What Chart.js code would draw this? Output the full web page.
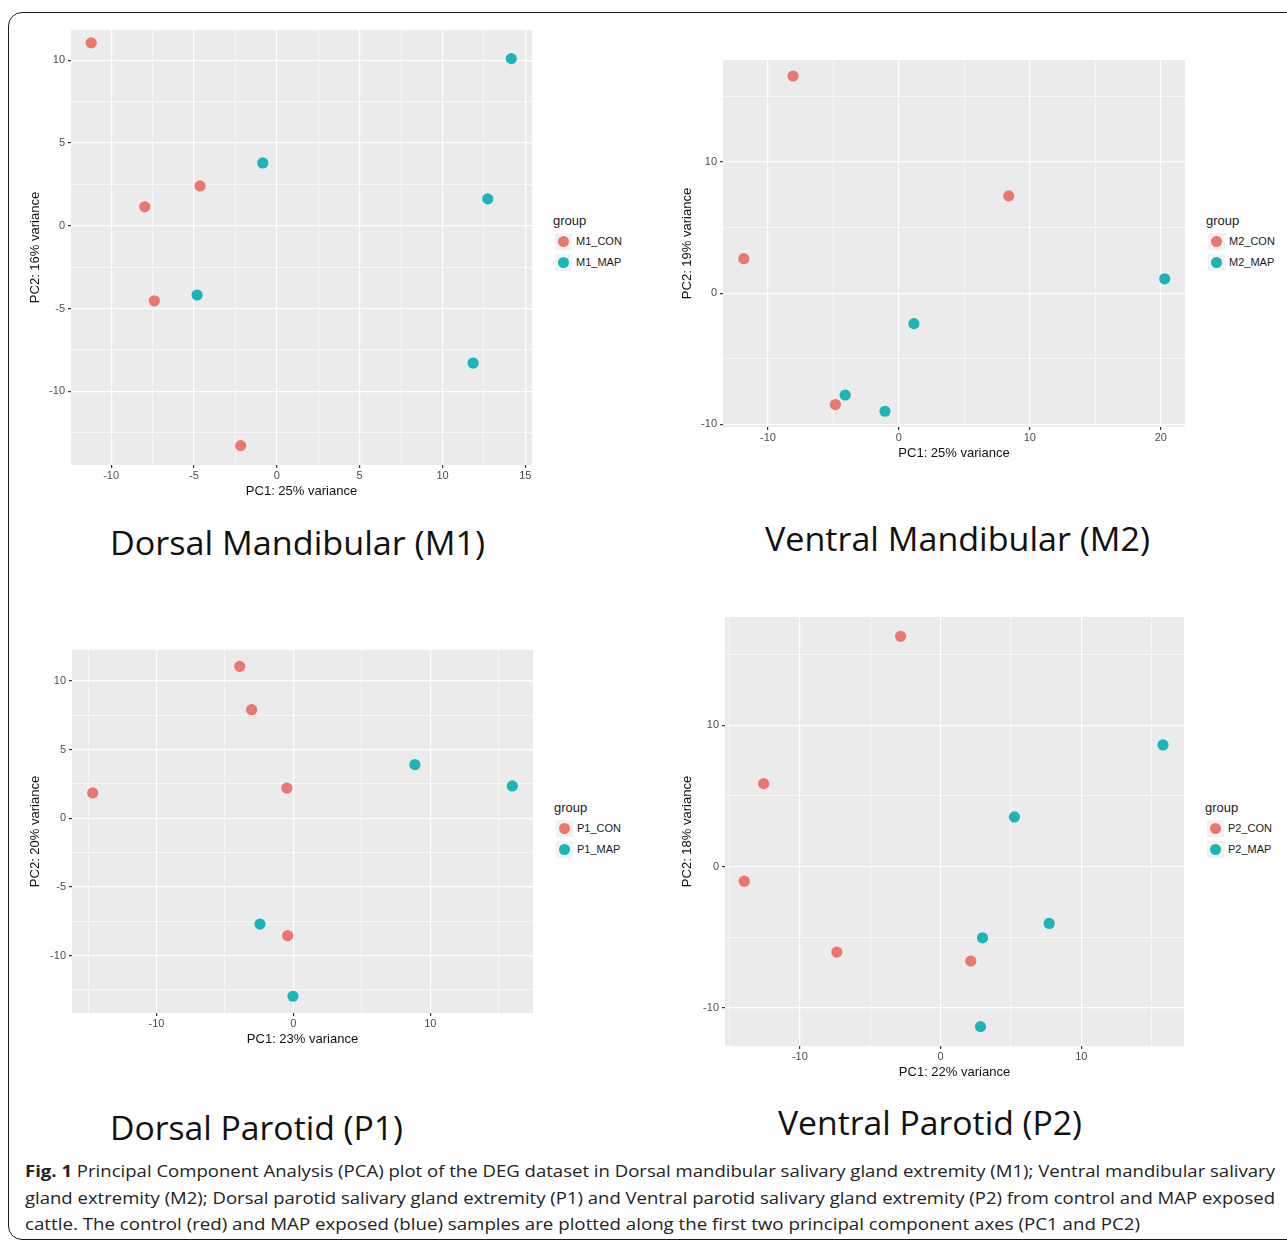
<!DOCTYPE html>
<html><head><meta charset="utf-8">
<script src="https://cdn.jsdelivr.net/npm/chart.js@4.4.1/dist/chart.umd.min.js"></script>
<style>
html,body{margin:0;padding:0;background:#fff;}
body{width:1287px;height:1244px;overflow:hidden;position:relative;font-family:"Open Sans",sans-serif;}
.frame{position:absolute;left:8px;top:12px;width:1310px;height:1228px;border:1.6px solid #1a1a1a;border-radius:14px;box-sizing:border-box;}
canvas.cv{position:absolute;}
.lg{position:absolute;font-family:"Liberation Sans",Arial,sans-serif;color:#1a1a1a;}
.lg .t{position:absolute;left:0;font-size:13px;line-height:16px;white-space:nowrap;}
.lg .k{position:absolute;width:17px;height:17px;background:#f2f2f2;}
.lg .d{position:absolute;width:11px;height:11px;border-radius:50%;}
.lg .l{position:absolute;font-size:11px;line-height:14px;white-space:nowrap;}
.fit{position:absolute;display:inline-block;white-space:nowrap;line-height:1;transform-origin:0 0;}
.sub{font-family:"Open Sans",sans-serif;font-size:32px;color:#111;}
.cap{font-family:"Open Sans",sans-serif;font-size:15.5px;color:#222;}
</style></head>
<body>
<div class="frame"></div>
<canvas id="cM1" class="cv"></canvas>
<canvas id="cM2" class="cv"></canvas>
<canvas id="cP1" class="cv"></canvas>
<canvas id="cP2" class="cv"></canvas>
<script>
// ---------- data ----------
const m1ConX = [-11.2, -7.97, -4.63, -7.39, -2.18];
const m1ConY = [11.05, 1.15, 2.41, -4.53, -13.28];
const m1MapX = [14.15, -0.85, 12.73, -4.81, 11.85];
const m1MapY = [10.1, 3.8, 1.63, -4.18, -8.29];

const m2ConX = [-8.08, -11.84, 8.39, -4.85];
const m2ConY = [16.56, 2.63, 7.42, -8.49];
const m2MapX = [20.3, 1.15, -4.1, -1.06];
const m2MapY = [1.1, -2.32, -7.76, -9.0];

const p1ConX = [-3.92, -3.05, -14.66, -0.48, -0.42];
const p1ConY = [11.06, 7.9, 1.84, 2.2, -8.56];
const p1MapX = [8.87, 15.99, -2.44, -0.03];
const p1MapY = [3.9, 2.35, -7.71, -12.97];

const p2ConX = [-2.84, -12.57, -13.95, -7.37, 2.15];
const p2ConY = [16.3, 5.87, -1.04, -6.06, -6.7];
const p2MapX = [15.81, 5.25, 7.72, 2.98, 2.84];
const p2MapY = [8.61, 3.51, -4.03, -5.05, -11.34];

// tick values (major = labelled, minor = grid only)
const m1XMajor = [-10, -5, 0, 5, 10, 15], m1XMinor = [-7.5, -2.5, 2.5, 7.5, 12.5];
const m1YMajor = [-10, -5, 0, 5, 10],     m1YMinor = [-12.5, -7.5, -2.5, 2.5, 7.5];
const m2XMajor = [-10, 0, 10, 20],        m2XMinor = [-5, 5, 15];
const m2YMajor = [-10, 0, 10],            m2YMinor = [-5, 5, 15];
const p1XMajor = [-10, 0, 10],            p1XMinor = [-15, -5, 5, 15];
const p1YMajor = [-10, -5, 0, 5, 10],     p1YMinor = [-12.5, -7.5, -2.5, 2.5, 7.5];
const p2XMajor = [-10, 0, 10],            p2XMinor = [-15, -5, 5, 15];
const p2YMajor = [-10, 0, 10],            p2YMinor = [-5, 5, 15];

// axis ranges
const m1XRange = [-12.42, 15.4],  m1YRange = [-14.45, 11.83];
const m2XRange = [-13.43, 21.85], m2YRange = [-10.2, 17.78];
const p1XRange = [-16.17, 17.5],  p1YRange = [-14.19, 12.25];
const p2XRange = [-15.32, 17.3],  p2YRange = [-12.71, 17.67];

const titlesX = ["PC1: 25% variance", "PC1: 25% variance", "PC1: 23% variance", "PC1: 22% variance"];
const titlesY = ["PC2: 16% variance", "PC2: 19% variance", "PC2: 20% variance", "PC2: 18% variance"];
const groupLabels = [["M1_CON", "M1_MAP"], ["M2_CON", "M2_MAP"], ["P1_CON", "P1_MAP"], ["P2_CON", "P2_MAP"]];
const panelNames = ["Dorsal Mandibular (M1)", "Ventral Mandibular (M2)", "Dorsal Parotid (P1)", "Ventral Parotid (P2)"];
const legendTitle = "group";
const captionBold = "Fig. 1";
const captionLines = [
  " Principal Component Analysis (PCA) plot of the DEG dataset in Dorsal mandibular salivary gland extremity (M1); Ventral mandibular salivary",
  "gland extremity (M2); Dorsal parotid salivary gland extremity (P1) and Ventral parotid salivary gland extremity (P2) from control and MAP exposed",
  "cattle. The control (red) and MAP exposed (blue) samples are plotted along the first two principal component axes (PC1 and PC2)"
];

// ---------- styling / layout ----------
const CON_COLOR = '#E9776D', MAP_COLOR = '#19B5B9';
const layouts = [
  {id:'cM1', l:71,  t:30,  r:532,  b:465,  ytx:35,  xty:491},
  {id:'cM2', l:723, t:60,  r:1185, b:427,  ytx:687, xty:453},
  {id:'cP1', l:72,  t:650, r:533,  b:1013, ytx:35,  xty:1039},
  {id:'cP2', l:725, t:617, r:1184, b:1046, ytx:687, xty:1072}
];
const panels = [
  {conX:m1ConX, conY:m1ConY, mapX:m1MapX, mapY:m1MapY, xMaj:m1XMajor, xMin:m1XMinor, yMaj:m1YMajor, yMin:m1YMinor, xr:m1XRange, yr:m1YRange},
  {conX:m2ConX, conY:m2ConY, mapX:m2MapX, mapY:m2MapY, xMaj:m2XMajor, xMin:m2XMinor, yMaj:m2YMajor, yMin:m2YMinor, xr:m2XRange, yr:m2YRange},
  {conX:p1ConX, conY:p1ConY, mapX:p1MapX, mapY:p1MapY, xMaj:p1XMajor, xMin:p1XMinor, yMaj:p1YMajor, yMin:p1YMinor, xr:p1XRange, yr:p1YRange},
  {conX:p2ConX, conY:p2ConY, mapX:p2MapX, mapY:p2MapY, xMaj:p2XMajor, xMin:p2XMinor, yMaj:p2YMajor, yMin:p2YMinor, xr:p2XRange, yr:p2YRange}
];

const panelBg = {
  id:'panelBg',
  beforeDraw(chart){
    const {ctx, chartArea:a} = chart;
    ctx.save(); ctx.fillStyle = '#EBEBEB';
    ctx.fillRect(a.left, a.top, a.right - a.left, a.bottom - a.top);
    ctx.restore();
  }
};

const TITLE_FONT = 13, LH = TITLE_FONT * 1.2;
const isMaj = (arr, v) => arr.some(m => Math.abs(m - v) < 1e-6);
const fmt = v => String(v);

function makeScale(maj, min, range, title, horizontal, fixedSize, titlePad){
  return {
    type:'linear', min:range[0], max:range[1],
    afterBuildTicks: s => { s.ticks = maj.concat(min).sort((a,b)=>a-b).map(v=>({value:v})); },
    afterFit: s => {
      if (horizontal) s.height = fixedSize; else s.width = fixedSize;
      s.paddingTop = 0; s.paddingBottom = 0; s.paddingLeft = 0; s.paddingRight = 0;
    },
    ticks:{
      autoSkip:false, maxRotation:0, minRotation:0, padding: horizontal ? 1 : 3,
      color:'#4D4D4D', font:{family:'"Liberation Sans", Arial, sans-serif', size:11},
      callback: v => isMaj(maj, v) ? fmt(v) : ''
    },
    grid:{
      color:'#FFFFFF',
      lineWidth: c => (c.tick && isMaj(maj, c.tick.value)) ? 1.2 : 0.6,
      tickColor: c => (c.tick && isMaj(maj, c.tick.value)) ? '#333333' : 'rgba(0,0,0,0)',
      tickLength:3, drawTicks:true, drawOnChartArea:true
    },
    border:{display:false},
    title:{
      display:true, text:title, color:'#111',
      font:{family:'"Liberation Sans", Arial, sans-serif', size:TITLE_FONT, lineHeight:1.2},
      padding: horizontal ? {top:0, bottom:titlePad} : {top:titlePad, bottom:0}
    }
  };
}

panels.forEach((p, i) => {
  const L = layouts[i];
  const cl = L.ytx - 18, ct = L.t - 6, cr = L.r + 6, cb = L.xty + 14;
  const cv = document.getElementById(L.id);
  cv.width = cr - cl; cv.height = cb - ct;
  cv.style.left = cl + 'px'; cv.style.top = ct + 'px';
  cv.style.width = (cr - cl) + 'px'; cv.style.height = (cb - ct) + 'px';
  const ds = (xs, ys, label, color) => ({
    label, data: xs.map((x, k) => ({x, y: ys[k]})),
    backgroundColor: color, borderColor: color, pointRadius:5.6, pointHoverRadius:5.6, pointBorderWidth:0
  });
  new Chart(cv, {
    type:'scatter',
    data:{datasets:[ds(p.conX, p.conY, groupLabels[i][0], CON_COLOR), ds(p.mapX, p.mapY, groupLabels[i][1], MAP_COLOR)]},
    options:{
      responsive:false, animation:false, devicePixelRatio:1,
      layout:{padding:{top:6, right:6, left:0, bottom:0}},
      plugins:{legend:{display:false}, tooltip:{enabled:false}},
      scales:{
        x: makeScale(p.xMaj, p.xMin, p.xr, titlesX[i], true, cb - L.b, 14 - LH/2),
        y: makeScale(p.yMaj, p.yMin, p.yr, titlesY[i], false, L.l - cl, 18 - LH/2)
      }
    },
    plugins:[panelBg]
  });

  // legend (HTML, built from dataset labels/colours)
  const lg = document.createElement('div'); lg.className = 'lg';
  const lx = L.r + 21;
  const cy = (i < 2) ? 221 : 808;
  lg.style.left = lx + 'px'; lg.style.top = (cy - 8) + 'px';
  let html = `<div class="t" style="top:0">${legendTitle}</div>`;
  [[groupLabels[i][0], CON_COLOR], [groupLabels[i][1], MAP_COLOR]].forEach(([lab, col], k) => {
    const y = 8 + 20 + k * 21;
    html += `<div class="k" style="left:2px;top:${y - 8.5}px"></div>`;
    html += `<div class="d" style="left:5px;top:${y - 5.5}px;background:${col}"></div>`;
    html += `<div class="l" style="left:23px;top:${y - 7}px">${lab}</div>`;
  });
  lg.innerHTML = html;
  document.body.appendChild(lg);
});

// ---------- subtitles & caption ----------
const subPos = [
  {x:110, w:375, base:555},
  {x:765, w:385, base:551},
  {x:110, w:293, base:1140},
  {x:778, w:304, base:1135}
];
const fits = [];
panelNames.forEach((n, i) => {
  const el = document.createElement('div');
  el.className = 'fit sub'; el.textContent = n;
  el.style.left = subPos[i].x + 'px'; el.style.top = (subPos[i].base - 0.888 * 32) + 'px';
  document.body.appendChild(el);
  fits.push([el, subPos[i].w]);
});
const capBase = [1178, 1204.5, 1231];
const capW = [1250, 1250, 1115];
captionLines.forEach((t, i) => {
  const el = document.createElement('div');
  el.className = 'fit cap';
  if (i === 0) {
    const b = document.createElement('b'); b.textContent = captionBold; el.appendChild(b);
  }
  el.appendChild(document.createTextNode(t));
  el.style.left = '25px'; el.style.top = (capBase[i] - 0.888 * 15.5) + 'px';
  document.body.appendChild(el);
  fits.push([el, capW[i]]);
});
function doFit(){
  fits.forEach(([el, w]) => {
    el.style.transform = 'none';
    const nat = el.getBoundingClientRect().width;
    el.style.transform = `scaleX(${w / nat})`;
  });
}
doFit();
if (document.fonts && document.fonts.ready) document.fonts.ready.then(doFit);
</script>
</body></html>
